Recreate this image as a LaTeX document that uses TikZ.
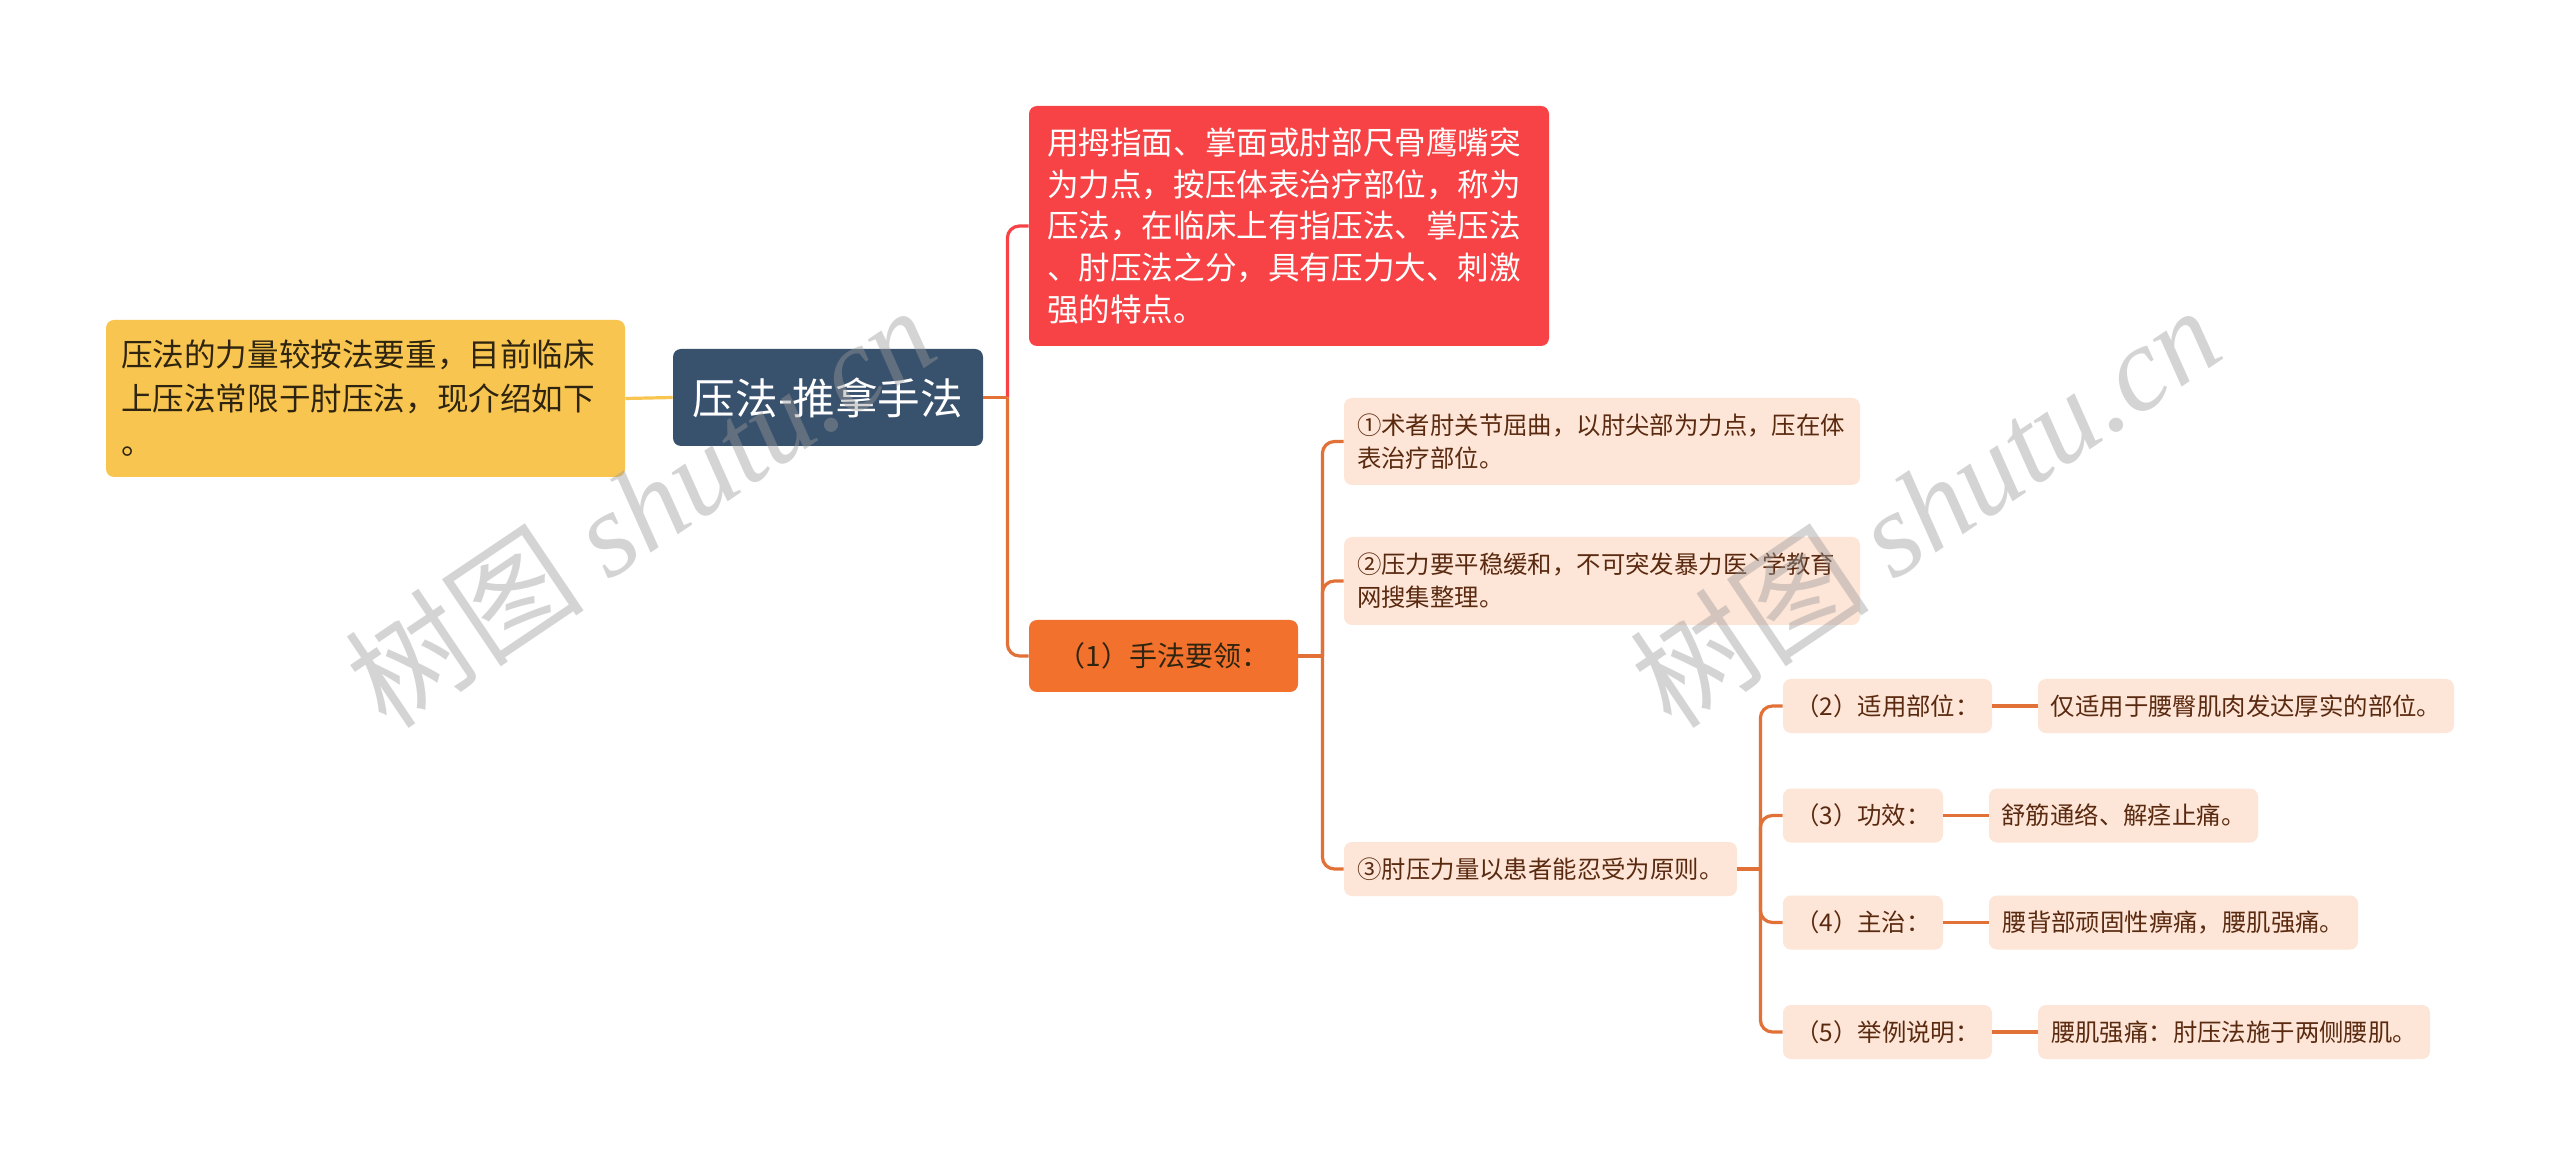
\documentclass[tikz,border=0pt]{standalone}
\usepackage{fontspec}
\setmainfont{Noto Sans CJK SC}
\newfontfamily\wmserif{Liberation Serif}
\definecolor{cyel}{HTML}{F8C650}
\definecolor{cred}{HTML}{F74346}
\definecolor{corg}{HTML}{F1712D}
\definecolor{croot}{HTML}{38516D}
\definecolor{clight}{HTML}{FDE5D7}
\definecolor{cline}{HTML}{E27137}
\definecolor{ctxt}{HTML}{5A2A10}
\definecolor{cdark}{HTML}{2E2410}
\definecolor{cwm}{HTML}{9A9A9A}
\begin{document}
\begin{tikzpicture}[x=0.5pt,y=-0.5pt,
  box/.style={rounded corners=4pt, inner xsep=0pt, inner ysep=0pt},
  yelbox/.style={box, fill=cyel, text=cdark, align=left, inner xsep=7.5pt, text width=244.5pt, minimum height=78.5pt, font=\fontsize{15.8}{22}\selectfont},
  redbox/.style={box, fill=cred, text=white, align=left, inner xsep=9pt, text width=242pt, minimum height=120pt, font=\fontsize{15.8}{20.8}\selectfont},
  rootbox/.style={box, fill=croot, text=white, minimum width=155pt, minimum height=48.5pt, font=\fontsize{21.3}{25}\selectfont},
  orgbox/.style={box, fill=corg, text=cdark, minimum width=134.5pt, minimum height=36pt, font=\fontsize{14}{17}\selectfont},
  litbox/.style={box, fill=clight, text=ctxt, minimum height=27pt, font=\fontsize{12.2}{16.5}\selectfont},
  litwide/.style={litbox, align=left, inner xsep=6.5pt, text width=245pt},
  conn/.style={line width=1.6pt, cline, rounded corners=6pt},
  wm/.style={text=cwm, opacity=0.42, font=\fontsize{60}{64}\selectfont, inner sep=0pt}
]
\fill[white] (0,0) rectangle (2560,1165);
\useasboundingbox (0,0) rectangle (2560,1165);

% nodes
\node[yelbox] (yel) at (365.5,398.5) {压法的力量较按法要重，目前临床\\上压法常限于肘压法，现介绍如下\\。};
\node[rootbox] (root) at (828,397.5) {压法-推拿手法};
\node[redbox] (red) at (1289,226) {用拇指面、掌面或肘部尺骨鹰嘴突\\为力点，按压体表治疗部位，称为\\压法，在临床上有指压法、掌压法\\、肘压法之分，具有压力大、刺激\\强的特点。};
\node[orgbox] (org) at (1163.5,656) {（1）手法要领：};
\node[litwide, minimum height=43.5pt] (n1) at (1602,441.5) {①术者肘关节屈曲，以肘尖部为力点，压在体\\表治疗部位。};
\node[litwide, minimum height=44pt] (n2) at (1602,581) {②压力要平稳缓和，不可突发暴力医ˋ学教育\\网搜集整理。};
\node[litbox, minimum width=196.5pt] (n3) at (1540.5,869) {③肘压力量以患者能忍受为原则。};

\node[litbox, minimum width=104.5pt] (a2) at (1887.5,706) {（2）适用部位：};
\node[litbox, minimum width=208pt] (l2) at (2246,706) {仅适用于腰臀肌肉发达厚实的部位。};
\node[litbox, minimum width=80pt] (a3) at (1863,815.5) {（3）功效：};
\node[litbox, minimum width=134.5pt] (l3) at (2123.5,815.5) {舒筋通络、解痉止痛。};
\node[litbox, minimum width=80pt] (a4) at (1863,922.5) {（4）主治：};
\node[litbox, minimum width=184.5pt] (l4) at (2173.5,922.5) {腰背部顽固性痹痛，腰肌强痛。};
\node[litbox, minimum width=104.5pt] (a5) at (1887.5,1032) {（5）举例说明：};
\node[litbox, minimum width=196pt] (l5) at (2234,1032) {腰肌强痛：肘压法施于两侧腰肌。};

% connectors
\draw[line width=1.6pt, cyel] (yel.east) -- (root.west);
\coordinate (j0) at ([xshift=12pt]root.east);
\draw[conn, cred] (j0) |- (red.west);
\draw[conn] (root.east) -- (j0);
\draw[conn] (j0) |- (org.west);

\coordinate (j1) at ([xshift=12pt]org.east);
\draw[conn] (org.east) -- (j1);
\draw[conn] (j1) |- (n1.west);
\draw[conn] (j1) |- (n2.west);
\draw[conn] (j1) |- (n3.west);

\coordinate (j2) at ([xshift=11.5pt]n3.east);
\draw[conn] (n3.east) -- (j2);
\draw[conn] (j2) |- (a2.west);
\draw[conn] (j2) |- (a3.west);
\draw[conn] (j2) |- (a4.west);
\draw[conn] (j2) |- (a5.west);

\draw[conn] (a2.east) -- (l2.west);
\draw[conn] (a3.east) -- (l3.west);
\draw[conn] (a4.east) -- (l4.west);
\draw[conn] (a5.east) -- (l5.west);

% watermarks
\node[wm, rotate=34] (wm1) at (640,506) {树图 {\wmserif\itshape shutu.cn}};
\node[wm, rotate=34] (wm2) at (1925,506) {树图 {\wmserif\itshape shutu.cn}};
\end{tikzpicture}
\end{document}
